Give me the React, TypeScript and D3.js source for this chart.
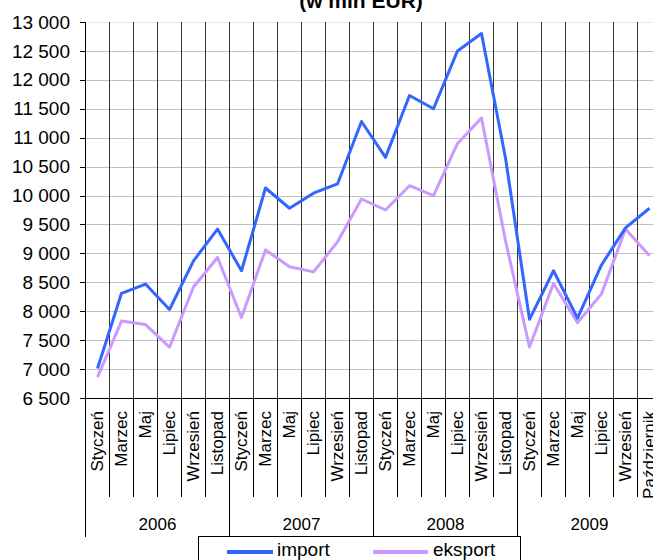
import React from "react";
import * as d3 from "d3";

// bimonthly labels, 2006-2009
const months = [
  "Styczeń", "Marzec", "Maj", "Lipiec", "Wrzesień", "Listopad",
  "Styczeń", "Marzec", "Maj", "Lipiec", "Wrzesień", "Listopad",
  "Styczeń", "Marzec", "Maj", "Lipiec", "Wrzesień", "Listopad",
  "Styczeń", "Marzec", "Maj", "Lipiec", "Wrzesień", "Październik",
];
const years = ["2006", "2007", "2008", "2009"];
const perYear = 6;

const importVals = [
  7010, 8310, 8470, 8030, 8870, 9420,
  8700, 10130, 9780, 10040, 10200, 11280,
  10660, 11730, 11500, 12500, 12800, 10650,
  7860, 8700, 7880, 8800, 9440, 9780,
];
const eksportVals = [
  6860, 7830, 7770, 7380, 8420, 8930,
  7890, 9060, 8770, 8680, 9200, 9940,
  9750, 10170, 10000, 10900, 11340, 9220,
  7380, 8480, 7800, 8300, 9420, 8960,
];
const yTicks = d3.range(6500, 13001, 500);

const W = 653, H = 560;
const left = 85.5, top = 22, bottom = 398;
const band = 24;

const fmt = (v: number) => {
  const s = String(v);
  return s.length > 3 ? s.slice(0, -3) + " " + s.slice(-3) : s;
};

export default function App() {
  const x = d3.scaleBand<number>()
    .domain(d3.range(months.length))
    .range([left, left + band * months.length])
    .padding(0);
  const y = d3.scaleLinear().domain([6500, 13000]).range([bottom, top]);

  const line = d3.line<number>()
    .x((_, i) => x(i)! + x.bandwidth() / 2)
    .y(d => y(d));

  const font = "'Liberation Sans', Arial, sans-serif";

  return (
    <svg width={W} height={H} style={{ position: "absolute", left: 0, top: 0, background: "#fff" }}
      fontFamily={font}>
      <text x={361} y={8} textAnchor="middle" fontWeight="bold" fontSize={21}>(w mln EUR)</text>

      {/* horizontal grid */}
      {yTicks.slice(1).map(t => (
        <line key={"h" + t} x1={left} x2={W} y1={Math.round(y(t)) + 0.5} y2={Math.round(y(t)) + 0.5}
          stroke={t === 13000 ? "#e8e8e8" : "#c0c0c0"} strokeWidth={1} />
      ))}

      {/* vertical grid */}
      {d3.range(1, months.length).map(i => (
        <line key={"v" + i} x1={x(i)} x2={x(i)} y1={top} y2={bottom} stroke="#333" strokeWidth={1} />
      ))}

      {/* y axis */}
      <line x1={left} x2={left} y1={top} y2={537} stroke="#000" />
      {yTicks.map(t => (
        <g key={"t" + t}>
          <line x1={80} x2={left} y1={Math.round(y(t)) + 0.5} y2={Math.round(y(t)) + 0.5} stroke="#000" />
          <text x={70} y={y(t)} dy="0.35em" textAnchor="end" fontSize={19}>{fmt(t)}</text>
        </g>
      ))}

      {/* x axis */}
      <line x1={80} x2={W} y1={bottom + 0.5} y2={bottom + 0.5} stroke="#000" />
      {d3.range(1, months.length).map(i => (
        <line key={"s" + i} x1={x(i)} x2={x(i)} y1={bottom} y2={i % perYear === 0 ? 537 : 497}
          stroke="#000" strokeWidth={1} />
      ))}
      {months.map((m, i) => {
        const cx = x(i)! + x.bandwidth() / 2;
        return (
          <text key={"m" + i} transform={`translate(${cx},411) rotate(-90)`} dy="0.35em"
            textAnchor="end" fontSize={17}>{m}</text>
        );
      })}
      {years.map((yr, j) => {
        const cx = x(j * perYear)! + (band * perYear) / 2;
        return <text key={yr} x={cx} y={530} textAnchor="middle" fontSize={17}>{yr}</text>;
      })}

      {/* series */}
      <path d={line(eksportVals)!} fill="none" stroke="#cc99ff" strokeWidth={3} strokeLinejoin="round" />
      <path d={line(importVals)!} fill="none" stroke="#3366ff" strokeWidth={3} strokeLinejoin="round" />

      {/* legend */}
      <rect x={198.5} y={536.5} width={322} height={40} fill="#fff" stroke="#000" />
      <line x1={227} x2={273} y1={552} y2={552} stroke="#3366ff" strokeWidth={4} />
      <text x={277} y={556} fontSize={19}>import</text>
      <line x1={373} x2={428} y1={552} y2={552} stroke="#cc99ff" strokeWidth={4} />
      <text x={433} y={556} fontSize={19}>eksport</text>
    </svg>
  );
}
